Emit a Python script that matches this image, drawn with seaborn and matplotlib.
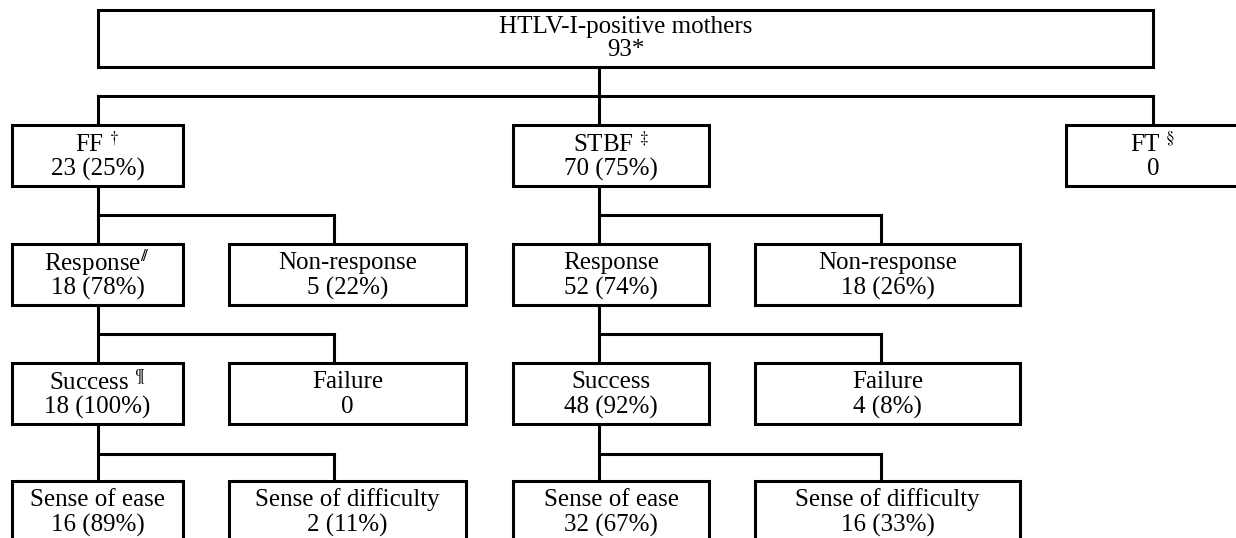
import matplotlib
matplotlib.use("Agg")
import matplotlib.pyplot as plt
from matplotlib.patches import Rectangle
import seaborn as sns

# ------------------------------------------------------------
# Data read off the flowchart
# ------------------------------------------------------------
top_label = "HTLV-I-positive mothers"
top_n = "93*"

feeding_labels = ["FF $^{\\dagger}$", "STBF $^{\\ddagger}$", "FT $^{\\S}$"]
feeding_n = [23, 70, 0]
feeding_pct = [25, 75, None]

# per branch: [FF, STBF]
response_labels = ["Response$^{/\\!/}$", "Response"]
response_n = [18, 52]
response_pct = [78, 74]
nonresponse_n = [5, 18]
nonresponse_pct = [22, 26]

success_labels = ["Success $^{\\P}$", "Success"]
success_n = [18, 48]
success_pct = [100, 92]
failure_n = [0, 4]
failure_pct = [None, 8]

ease_n = [16, 32]
ease_pct = [89, 67]
difficulty_n = [2, 16]
difficulty_pct = [11, 33]

# ------------------------------------------------------------
# Layout (pixels of the 1236 x 538 canvas)
# ------------------------------------------------------------
col_left = [12, 229, 513, 755, 1066]
col_right = [183, 466, 709, 1020, 1240]
stems = [98, 334, 599, 881, 1153]
row_top = [125, 244, 363, 481]
box_h = 61
bar_y = [96, 215, 334, 454]
top_box = (98, 10, 1153, 67)

LW = 2.2
FS = 18

sns.set_theme(style="white")
plt.rcParams["font.family"] = ["Liberation Serif", "DejaVu Serif"]
plt.rcParams["mathtext.fontset"] = "stix"
plt.rcParams["text.color"] = "black"

fig = plt.figure(figsize=(12.36, 5.38), dpi=100)
ax = fig.add_axes([0, 0, 1, 1])
ax.set_xlim(0, 1236)
ax.set_ylim(538, 0)
ax.axis("off")


def fmt(n, p):
    return "0" if p is None else f"{n} ({p}%)"


def box(x0, x1, y0, y1, line1, line2, l1_off=19, l2_off=44):
    ax.add_patch(Rectangle((x0, y0), x1 - x0, y1 - y0, facecolor="white",
                           edgecolor="black", linewidth=LW, zorder=2))
    cx = (x0 + x1) / 2
    ax.text(cx, y0 + l1_off, line1, ha="center", va="center", fontsize=FS,
            color="black", zorder=3)
    ax.text(cx, y0 + l2_off, line2, ha="center", va="center", fontsize=FS,
            color="black", zorder=3)


def line(xs, ys):
    ax.plot(xs, ys, color="black", linewidth=LW, solid_capstyle="projecting", zorder=1)


# top box and first split
x0, y0, x1, y1 = top_box
box(x0, x1, y0, y1, top_label, top_n, l1_off=17, l2_off=40)
line([stems[2], stems[2]], [y1, row_top[0]])
line([stems[0], stems[4]], [bar_y[0], bar_y[0]])
line([stems[0], stems[0]], [bar_y[0], row_top[0]])
line([stems[4], stems[4]], [bar_y[0], row_top[0]])

# feeding method row
for i, c in enumerate([0, 2, 4]):
    box(col_left[c], col_right[c], row_top[0], row_top[0] + box_h,
        feeding_labels[i], fmt(feeding_n[i], feeding_pct[i]))

# lower rows for FF (cols 0/1) and STBF (cols 2/3)
levels = [
    (response_labels, response_n, response_pct, ["Non-response"] * 2, nonresponse_n, nonresponse_pct),
    (success_labels, success_n, success_pct, ["Failure"] * 2, failure_n, failure_pct),
    (["Sense of ease"] * 2, ease_n, ease_pct, ["Sense of difficulty"] * 2, difficulty_n, difficulty_pct),
]

for b, (lc, rc) in enumerate([(0, 1), (2, 3)]):
    for r, (ll, ln, lp, rl, rn, rp) in enumerate(levels, start=1):
        prev_bottom = row_top[r - 1] + box_h
        line([stems[lc], stems[lc]], [prev_bottom, row_top[r]])
        line([stems[lc], stems[rc]], [bar_y[r], bar_y[r]])
        line([stems[rc], stems[rc]], [bar_y[r], row_top[r]])
        box(col_left[lc], col_right[lc], row_top[r], row_top[r] + box_h,
            ll[b], fmt(ln[b], lp[b]))
        box(col_left[rc], col_right[rc], row_top[r], row_top[r] + box_h,
            rl[b], fmt(rn[b], rp[b]))

fig.savefig("out.png", dpi=100, facecolor="white")
